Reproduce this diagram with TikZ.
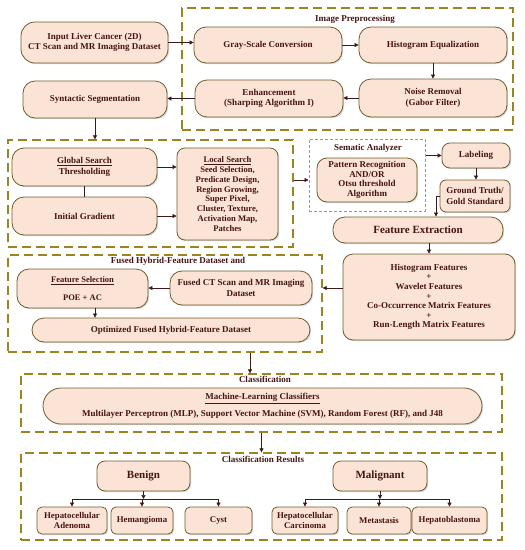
\documentclass[tikz,border=0pt]{standalone}
\usepackage{fontspec}
\setmainfont{Liberation Serif}
\usetikzlibrary{arrows.meta,shadows}
\definecolor{boxfill}{RGB}{251,228,213}
\definecolor{boxdraw}{RGB}{110,94,46}
\definecolor{txt}{RGB}{70,20,20}
\definecolor{dashc}{RGB}{156,132,32}
\definecolor{dashl}{RGB}{180,160,45}
\definecolor{arrc}{RGB}{60,25,25}
\tikzset{
 box/.style={draw=boxdraw, line width=0.8pt, fill=boxfill, rounded corners=12pt, align=center, text=txt,
   font=\bfseries\fontsize{9}{10.5}\selectfont, inner sep=1pt,
   drop shadow={shadow xshift=1.2pt,shadow yshift=-1.2pt,opacity=0.3}},
 big/.style={font=\bfseries\fontsize{11}{13}\selectfont},
 grp/.style={draw=dashc, line width=1.3pt, dash pattern=on 9pt off 5pt, inner sep=0pt},
 grpl/.style={draw=dashl, line width=1pt, dash pattern=on 3pt off 2pt, inner sep=0pt},
 lbl/.style={text=txt, font=\bfseries\fontsize{9}{10}\selectfont, inner sep=0pt},
 arr/.style={draw=arrc, line width=0.7pt, -{Triangle[length=4pt,width=4pt]}},
 ln/.style={draw=arrc, line width=0.7pt},
}
\begin{document}
\begin{tikzpicture}[x=1pt,y=-1pt]
\useasboundingbox[fill=white] (0,0) rectangle (525,550);
% groups
\node[grp, minimum width=331, minimum height=122] (prep) at (347.5,69) {};
\node[grp, minimum width=285, minimum height=107] (seg) at (150.5,193.5) {};
\node[grpl, minimum width=116, minimum height=72] (sem) at (367,175) {};
\node[grp, minimum width=314, minimum height=97] (fused) at (165,303.5) {};
\node[grp, minimum width=481, minimum height=58] (cls) at (261.5,403) {};
\node[grp, minimum width=481, minimum height=87] (res) at (261.5,496.5) {};
% group labels
\node[lbl] (prepl) at (355,19) {Image Preprocessing};
\node[lbl] (seml) at (368,148) {Sematic Analyzer};
\node[lbl] (fusedl) at (178,261.5) {Fused Hybrid-Feature Dataset and};
\node[lbl] (clsl) at (265,379.5) {Classification};
\node[lbl] (resl) at (263,459.5) {Classification Results};
% boxes
\node[box, minimum width=147, minimum height=41, rounded corners=14pt, font=\bfseries\fontsize{9}{10.7}\selectfont] (inp) at (94.5,42.5) {Input Liver Cancer (2D)\\CT Scan and MR Imaging Dataset};
\node[box, minimum width=148, minimum height=36] (gray) at (268,45) {Gray-Scale Conversion};
\node[box, minimum width=148, minimum height=36] (hist) at (433,45) {Histogram Equalization};
\node[box, minimum width=148, minimum height=38] (noise) at (433,98) {Noise Removal\\(Gabor Filter)};
\node[box, minimum width=148, minimum height=37] (enh) at (269,98.5) {Enhancement\\(Sharping Algorithm I)};
\node[box, minimum width=144, minimum height=37] (synt) at (95,99.5) {Syntactic Segmentation};
\node[box, minimum width=145, minimum height=38] (glob) at (84.5,167) {\underline{Global Search}\\Thresholding};
\node[box, minimum width=145, minimum height=38] (init) at (84.5,216) {Initial Gradient};
\node[box, minimum width=101, minimum height=92, rounded corners=8pt, font=\bfseries\fontsize{8.6}{9.8}\selectfont] (local) at (227.5,194) {\underline{Local Search}\\Seed Selection,\\Predicate Design,\\Region Growing,\\Super Pixel,\\Cluster, Texture,\\Activation Map,\\Patches};
\node[box, minimum width=100, minimum height=44, rounded corners=10pt, font=\bfseries\fontsize{9}{9.7}\selectfont] (patt) at (367,180) {Pattern Recognition\\AND/OR\\Otsu threshold\\Algorithm};
\node[box, minimum width=68, minimum height=25, rounded corners=8pt] (lab) at (476,155.5) {Labeling};
\node[box, minimum width=70, minimum height=32, rounded corners=6pt] (gt) at (475,196) {Ground Truth/\\Gold Standard};
\node[box, big, minimum width=170, minimum height=26, rounded corners=12pt] (fe) at (418,230) {Feature Extraction};
\node[box, minimum width=172, minimum height=86, rounded corners=10pt, font=\bfseries\fontsize{9}{9.6}\selectfont] (feat) at (429,297) {Histogram Features\\+\\Wavelet Features\\+\\Co-Occurrence Matrix Features\\+\\Run-Length Matrix Features};
\node[box, minimum width=131, minimum height=39, rounded corners=12pt, font=\bfseries\fontsize{8.5}{10}\selectfont] (fs) at (82.5,288.5) {\underline{Feature Selection}\\[8pt]POE + AC};
\node[box, minimum width=142, minimum height=34, rounded corners=12pt] (fct) at (241,288) {Fused CT Scan and MR Imaging\\Dataset};
\node[box, minimum width=278, minimum height=24, rounded corners=12pt] (opt) at (171,330) {Optimized Fused Hybrid-Feature Dataset};
\node[box, minimum width=439, minimum height=36, rounded corners=18pt] (ml) at (262.5,406) {\underline{Machine-Learning Classifiers}\\[7pt]Multilayer Perceptron (MLP), Support Vector Machine (SVM), Random Forest (RF), and J48};
\node[box, big, minimum width=93, minimum height=30, rounded corners=8pt] (ben) at (143.5,476) {Benign};
\node[box, big, minimum width=94, minimum height=30, rounded corners=8pt] (mal) at (380,476) {Malignant};
\node[box, minimum width=70, minimum height=27, rounded corners=5pt, font=\bfseries\fontsize{8.8}{9.8}\selectfont] (ha) at (72,520.5) {Hepatocellular\\Adenoma};
\node[box, minimum width=62, minimum height=27, rounded corners=5pt, font=\bfseries\fontsize{8.8}{9.8}\selectfont] (hem) at (142,520.5) {Hemangioma};
\node[box, minimum width=67, minimum height=27, rounded corners=5pt, font=\bfseries\fontsize{8.8}{9.8}\selectfont] (cyst) at (218.5,520.5) {Cyst};
\node[box, minimum width=66, minimum height=27, rounded corners=5pt, font=\bfseries\fontsize{8.8}{9.8}\selectfont] (hc) at (305,520.5) {Hepatocellular\\Carcinoma};
\node[box, minimum width=64, minimum height=27, rounded corners=5pt, font=\bfseries\fontsize{8.8}{9.8}\selectfont] (met) at (379,520.5) {Metastasis};
\node[box, minimum width=75, minimum height=27, rounded corners=5pt, font=\bfseries\fontsize{8.8}{9.8}\selectfont] (hb) at (449.5,520.5) {Hepatoblastoma};
% connectors
\draw[arr] (inp.east) -- (inp.east -| gray.west);
\draw[arr] (gray.east) -- (gray.east -| hist.west);
\draw[arr] (hist.south) -- (hist.south |- noise.north);
\draw[arr] (noise.west) -- (noise.west -| enh.east);
\draw[arr] (enh.west) -- (enh.west -| synt.east);
\draw[arr] (synt.south) -- (synt.south |- seg.north);
\draw[ln] (glob.south) -- (glob.south |- init.north);
\draw[arr] (glob.east) -- (glob.east -| local.west);
\draw[arr] (init.east) -- (init.east -| local.west);
\draw[arr] (seg.east |- patt.west) -- (sem.west |- patt.west);
\draw[arr] (sem.east |- lab.west) -- (lab.west);
\draw[arr] (lab.south) -- (lab.south |- gt.north);
\coordinate (c1) at (436,0);
\draw[arr] (gt.west) -| (c1 |- fe.north);
\draw[arr] (feat.north |- fe.south) -- (feat.north);
\draw[arr] (feat.west |- fct.east) -- (fused.east |- fct.east);
\draw[arr] (fct.west) -- (fct.west -| fs.east);
\coordinate (c2) at (95,0);
\draw[arr] (c2 |- fs.south) -- (c2 |- opt.north);
\coordinate (c3) at (250,0);
\draw[arr] (c3 |- fused.south) -- (c3 |- cls.north);
\draw[arr] (cls.south) -- (cls.south |- res.north);
% benign tree
\coordinate (bb) at (143.5,499);
\draw[arr] (ben.south) -- (bb);
\draw[ln] (ha.north |- bb) -- (cyst.north |- bb);
\draw[arr] (ha.north |- bb) -- (ha.north);
\draw[arr] (hem.north |- bb) -- (hem.north);
\draw[arr] (cyst.north |- bb) -- (cyst.north);
% malignant tree
\coordinate (mb) at (380,499);
\draw[arr] (mal.south) -- (mb);
\draw[ln] (hc.north |- mb) -- (hb.north |- mb);
\draw[arr] (hc.north |- mb) -- (hc.north);
\draw[arr] (met.north |- mb) -- (met.north);
\draw[arr] (hb.north |- mb) -- (hb.north);
\end{tikzpicture}
\end{document}
